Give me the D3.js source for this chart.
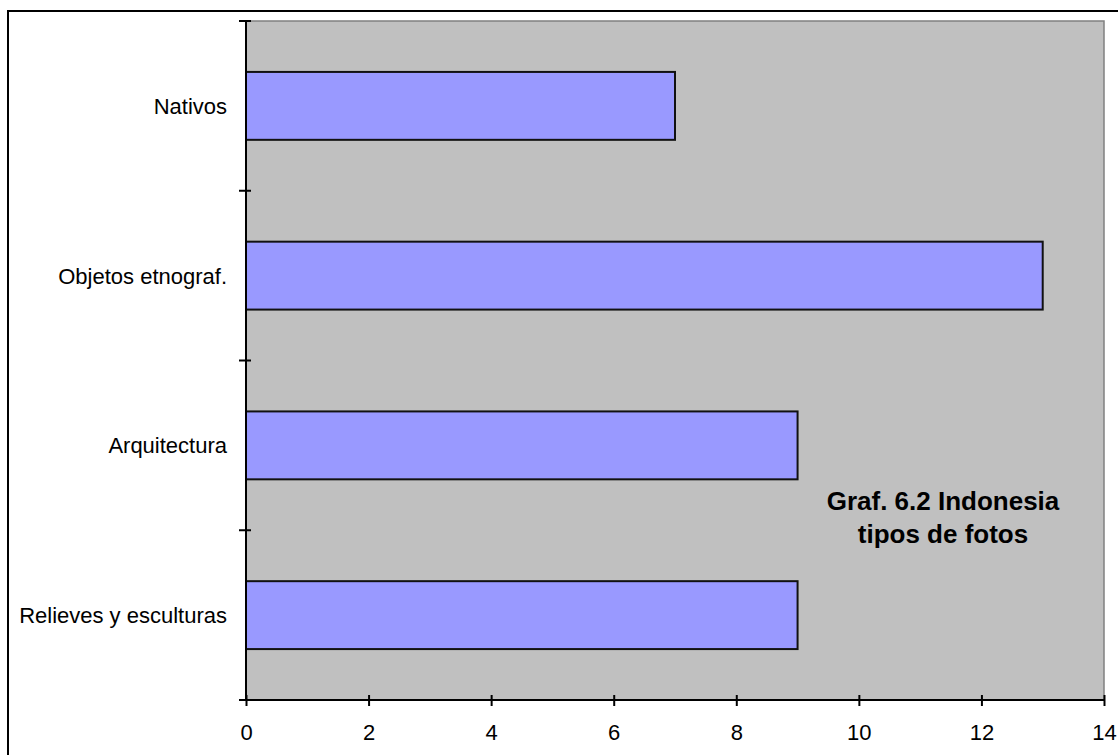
<!DOCTYPE html>
<html>
<head>
<meta charset="utf-8">
<script src="https://d3js.org/d3.v7.min.js"></script>
<style>
  html, body { margin: 0; padding: 0; background: #ffffff; }
  svg { display: block; }
</style>
</head>
<body>
<script>
const categories = ["Nativos", "Objetos etnograf.", "Arquitectura", "Relieves y esculturas"];
const values = [7, 13, 9, 9];
const xTicks = [0, 2, 4, 6, 8, 10, 12, 14];
const titleLines = ["Graf. 6.2 Indonesia", "tipos de fotos"];

const W = 1118, H = 755;
const plot = { left: 246, right: 1104, top: 21, bottom: 700 };

const svg = d3.select("body").append("svg").attr("width", W).attr("height", H);

svg.append("rect").attr("width", W).attr("height", H).attr("fill", "#ffffff");
// chart border
svg.append("rect").attr("x", 8).attr("y", 11).attr("width", 1300).attr("height", 1000)
  .attr("fill", "none").attr("stroke", "#000").attr("stroke-width", 2);

const x = d3.scaleLinear().domain([0, 14]).range([plot.left, plot.right]);
const y = d3.scaleBand().domain(categories).range([plot.top, plot.bottom])
  .paddingInner(0.6).paddingOuter(0.3);

// plot background
svg.append("rect").attr("x", plot.left).attr("y", plot.top)
  .attr("width", plot.right - plot.left).attr("height", plot.bottom - plot.top)
  .attr("fill", "#c0c0c0").attr("stroke", "#808080").attr("stroke-width", 1.5);

// bars
svg.append("g").selectAll("rect").data(categories).join("rect")
  .attr("x", x(0))
  .attr("y", d => y(d))
  .attr("width", (d, i) => x(values[i]) - x(0))
  .attr("height", y.bandwidth())
  .attr("fill", "#9999ff")
  .attr("stroke", "#111")
  .attr("stroke-width", 2);

// x axis
const xAxis = d3.axisBottom(x).tickValues(xTicks).tickSize(6).tickPadding(18);
const gx = svg.append("g").attr("transform", `translate(0,${plot.bottom})`).call(xAxis);
gx.select(".domain").attr("stroke", "#000").attr("stroke-width", 2).attr("d", `M${plot.left - 7},0H${plot.right}`);
gx.selectAll(".tick line").attr("stroke", "#000").attr("stroke-width", 2).attr("y1", -5).attr("y2", 6);
gx.selectAll(".tick text").attr("font-family", "Arial, 'Liberation Sans', sans-serif")
  .attr("font-size", 22).attr("fill", "#000");

// y axis: ticks at band boundaries
const boundaries = d3.range(categories.length + 1).map(i => plot.top + (plot.bottom - plot.top) * i / categories.length);
const gy = svg.append("g");
gy.append("line").attr("x1", plot.left).attr("x2", plot.left)
  .attr("y1", plot.top).attr("y2", plot.bottom).attr("stroke", "#000").attr("stroke-width", 2);
gy.selectAll("line.tk").data(boundaries).join("line").attr("class", "tk")
  .attr("x1", plot.left - 7).attr("x2", plot.left + 5)
  .attr("y1", d => d).attr("y2", d => d)
  .attr("stroke", "#000").attr("stroke-width", 2);
gy.selectAll("text").data(categories).join("text")
  .attr("x", 227)
  .attr("y", d => y(d) + y.bandwidth() / 2)
  .attr("dy", "0.36em")
  .attr("text-anchor", "end")
  .attr("font-family", "Arial, 'Liberation Sans', sans-serif")
  .attr("font-size", 22)
  .attr("fill", "#000")
  .text(d => d);

// title
svg.append("g").selectAll("text").data(titleLines).join("text")
  .attr("x", 943)
  .attr("y", (d, i) => 510 + i * 33)
  .attr("text-anchor", "middle")
  .attr("font-family", "Arial, 'Liberation Sans', sans-serif")
  .attr("font-weight", "bold")
  .attr("font-size", 26)
  .attr("fill", "#000")
  .text(d => d);
</script>
</body>
</html>
